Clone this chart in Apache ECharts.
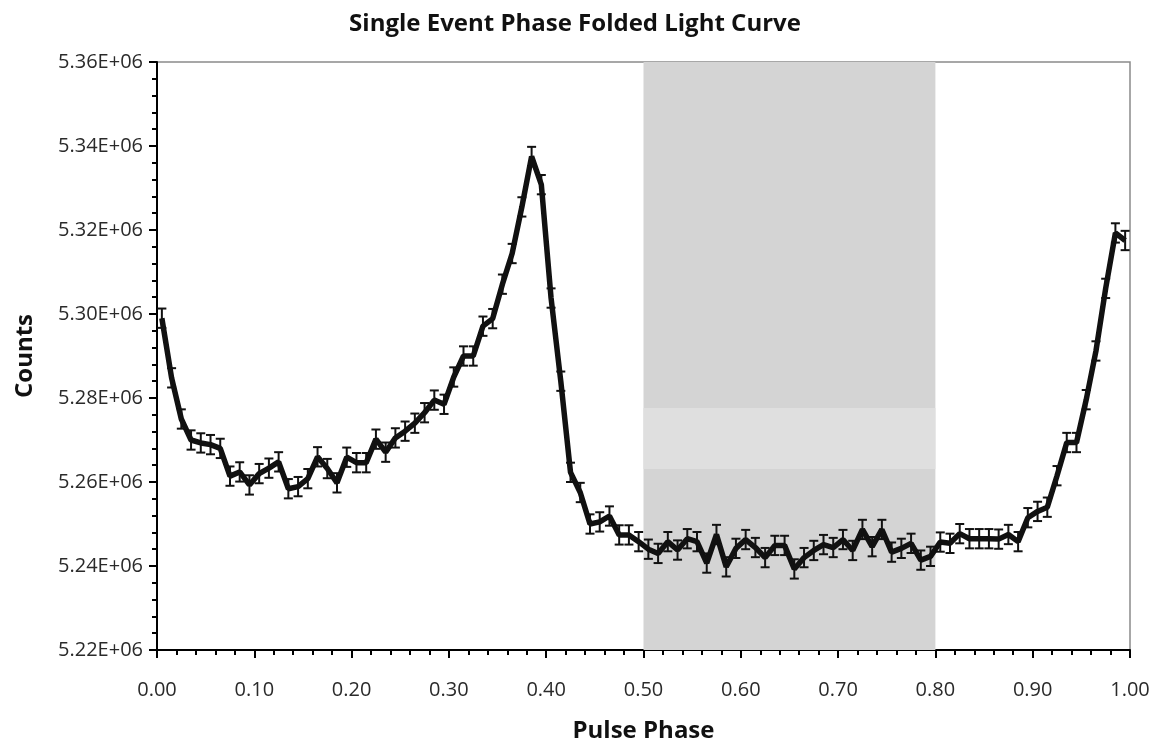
<!DOCTYPE html>
<html>
<head>
<meta charset="utf-8">
<script src="https://cdn.jsdelivr.net/npm/echarts@6/dist/echarts.min.js"></script>
<style>
html,body{margin:0;padding:0;background:#fff;}
#chart{width:1150px;height:742px;}
</style>
</head>
<body>
<div id="chart"></div>
<script>
// Pulse-phase bins (100 bins, value = bin centre)
const binCount = 100;
const phases = Array.from({length: binCount}, (_, i) => +((i + 0.5) / binCount).toFixed(3));

// Counts
const counts = [
  5299000, 5284800, 5275000, 5270000, 5269300, 5268900, 5268000, 5261400, 5262400, 5259300,
  5262000, 5263300, 5264800, 5258400, 5258900, 5260800, 5266000, 5263200, 5259800, 5265900,
  5264600, 5264600, 5270200, 5267100, 5270500, 5272100, 5274000, 5276500, 5279500, 5278500,
  5285000, 5290000, 5290000, 5297100, 5298900, 5307100, 5314400, 5325500, 5337500, 5330800,
  5303800, 5284000, 5262300, 5257500, 5250000, 5250500, 5251900, 5247400, 5247400, 5245800,
  5244000, 5243000, 5245800, 5243800, 5246500, 5245800, 5240700, 5247500, 5239800, 5244200,
  5246300, 5244400, 5242000, 5244900, 5244900, 5239300, 5242000, 5243700, 5245100, 5244400,
  5246300, 5243700, 5248700, 5244600, 5248700, 5243300, 5244200, 5245400, 5241400, 5242300,
  5245700, 5245400, 5247700, 5246500, 5246500, 5246500, 5246400, 5247500, 5245800, 5251500,
  5253000, 5254000, 5261500, 5269400, 5269400, 5279600, 5291200, 5306100, 5319300, 5317500
];

// Error bar half-height (counts) (~sqrt(N))
const countError = 2300;

// Shaded region (phase) and lighter band (counts)
const shadePhase = [0.5, 0.8];
const lightBand = [5263100, 5277600];

// Axis ranges / ticks
const xRange = [0, 1];
const xInterval = 0.1;
const yRange = [5220000, 5360000];
const yInterval = 20000;

const lineData = phases.map((p, i) => [p, counts[i]]);
const errData = phases.map((p, i) => [p, counts[i] - countError, counts[i] + countError]);

const font = '"Open Sans", "Liberation Sans", sans-serif';

const chart = echarts.init(document.getElementById('chart'), null, {renderer: 'canvas'});
chart.setOption({
  backgroundColor: '#ffffff',
  animation: false,
  title: {
    text: 'Single Event Phase Folded Light Curve',
    left: 'center',
    top: 7,
    textStyle: {fontFamily: font, fontSize: 24, fontWeight: 'bold', color: '#111'}
  },
  grid: {
    left: 157, right: 20, top: 62, bottom: 92,
    containLabel: false,
    outerBoundsMode: 'none',
    show: true, borderColor: '#8a8a8a', borderWidth: 1.5, backgroundColor: 'transparent'
  },
  xAxis: {
    type: 'value',
    min: xRange[0], max: xRange[1], interval: xInterval,
    name: 'Pulse Phase',
    nameLocation: 'middle',
    nameGap: 69,
    nameTextStyle: {fontFamily: font, fontSize: 24, fontWeight: 'bold', color: '#111'},
    axisLine: {show: true, onZero: false, lineStyle: {color: '#000', width: 2}},
    axisTick: {show: true, inside: false, length: 8, lineStyle: {color: '#000', width: 2}},
    minorTick: {show: true, splitNumber: 5, length: 5, lineStyle: {color: '#000', width: 2}},
    splitLine: {show: false},
    axisLabel: {
      fontFamily: font, fontSize: 20, color: '#2a2a2a', margin: 30,
      formatter: v => v.toFixed(2)
    }
  },
  yAxis: {
    type: 'value',
    min: yRange[0], max: yRange[1], interval: yInterval,
    name: 'Counts',
    nameLocation: 'middle',
    nameGap: 120,
    nameRotate: 90,
    nameTextStyle: {fontFamily: font, fontSize: 24, fontWeight: 'bold', color: '#111'},
    axisLine: {show: true, onZero: false, lineStyle: {color: '#000', width: 2}},
    axisTick: {show: true, inside: false, length: 8, lineStyle: {color: '#000', width: 2}},
    minorTick: {show: true, splitNumber: 5, length: 5, lineStyle: {color: '#000', width: 2}},
    splitLine: {show: false},
    axisLabel: {
      fontFamily: font, fontSize: 20, color: '#2a2a2a', margin: 14,
      formatter: v => (v / 1e6).toFixed(2) + 'E+06'
    }
  },
  series: [
    {
      type: 'line',
      data: lineData,
      symbol: 'none',
      lineStyle: {color: '#111', width: 5.5},
      z: 3,
      markArea: {
        silent: true,
        data: [
          [{xAxis: shadePhase[0], itemStyle: {color: '#d4d4d4'}}, {xAxis: shadePhase[1]}],
          [{xAxis: shadePhase[0], yAxis: lightBand[0], itemStyle: {color: '#dfdfdf'}},
           {xAxis: shadePhase[1], yAxis: lightBand[1]}]
        ]
      }
    },
    {
      type: 'custom',
      data: errData,
      z: 4,
      renderItem: function (params, api) {
        const x = api.value(0);
        const lo = api.coord([x, api.value(1)]);
        const hi = api.coord([x, api.value(2)]);
        const hw = 4.5;
        const style = {stroke: '#111', lineWidth: 2};
        return {
          type: 'group',
          children: [
            {type: 'line', shape: {x1: lo[0], y1: lo[1], x2: hi[0], y2: hi[1]}, style},
            {type: 'line', shape: {x1: lo[0] - hw, y1: lo[1], x2: lo[0] + hw, y2: lo[1]}, style},
            {type: 'line', shape: {x1: hi[0] - hw, y1: hi[1], x2: hi[0] + hw, y2: hi[1]}, style}
          ]
        };
      }
    }
  ]
});
</script>
</body>
</html>
